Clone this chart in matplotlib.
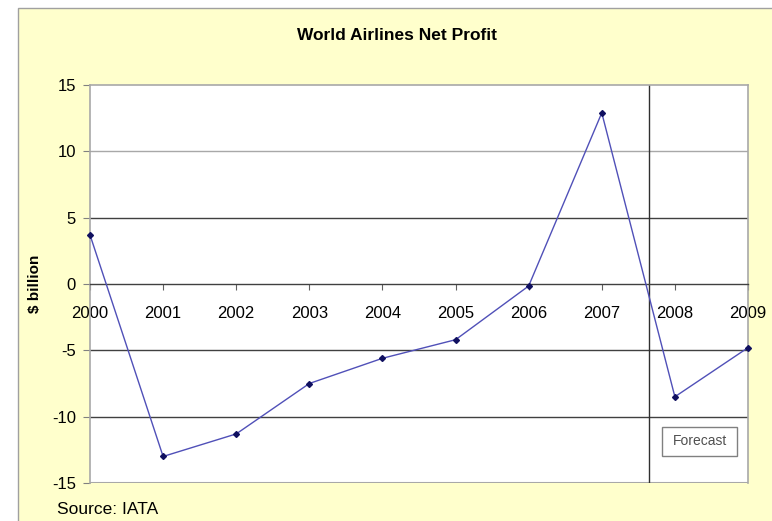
import matplotlib.pyplot as plt
from matplotlib.patches import Rectangle

# data
years = ['2000', '2001', '2002', '2003', '2004', '2005', '2006', '2007', '2008', '2009']
profit = [3.7, -13.0, -11.3, -7.5, -5.6, -4.2, -0.15, 12.9, -8.5, -4.8]
forecast_split = 7.65
y_ticks = [-15, -10, -5, 0, 5, 10, 15]

plt.rcParams['font.family'] = ['Liberation Sans', 'DejaVu Sans']

fig = plt.figure(figsize=(7.72, 5.21), dpi=100)
fig.patch.set_facecolor('white')

# yellow chart area
fig.patches.append(Rectangle((18 / 772, -0.05), 1.0, 1 - 8 / 521 + 0.05,
                             transform=fig.transFigure, facecolor='#FFFFCC',
                             edgecolor='#A0A0A0', linewidth=1.0, zorder=-10))

ax = fig.add_axes([90 / 772, 38 / 521, 658 / 772, 398 / 521])
ax.set_zorder(1)
ax.set_facecolor('white')

x = list(range(len(years)))
ax.set_xlim(0, len(years) - 1)
ax.set_ylim(-15, 15)

# gridlines
for v in [10]:
    ax.axhline(v, color='#A8A8A8', linewidth=1.0, zorder=1)
for v in [5, -5, -10]:
    ax.axhline(v, color='#404040', linewidth=1.0, zorder=1)
ax.axhline(-15, color='#A8A8A8', linewidth=1.5, zorder=1)

# forecast divider
ax.axvline(forecast_split, color='#303030', linewidth=1.0, zorder=2)

ax.plot(x, profit, color='#5050B8', linewidth=1.0, marker='D', markersize=3,
        markerfacecolor='#101060', markeredgecolor='#101060', zorder=3, clip_on=False)

for side in ['top', 'right', 'left']:
    ax.spines[side].set_color('#A8A8A8')
    ax.spines[side].set_linewidth(1.2)
ax.spines['bottom'].set_position(('data', 0))
ax.spines['bottom'].set_color('#404040')
ax.spines['bottom'].set_linewidth(1.0)

ax.set_xticks(x)
ax.set_xticklabels(years, fontsize=12)
ax.set_yticks(y_ticks)
ax.set_yticklabels([str(v) for v in y_ticks], fontsize=12)
ax.tick_params(axis='x', length=4, pad=12, color='#606060')
ax.tick_params(axis='y', length=5, pad=5, color='#808080')
for lbl in ax.get_xticklabels():
    lbl.set_zorder(5)

ax.set_ylabel('$ billion', fontsize=11, fontweight='bold')
ax.yaxis.set_label_coords(-0.073, 0.5)

# forecast box
ax.add_patch(Rectangle((7.824, -12.96), 1.026, 2.18, facecolor='white',
                       edgecolor='#808080', linewidth=1.0, zorder=6))
ax.text(8.337, -11.87, 'Forecast', fontsize=10, color='#505050', ha='center', va='center', zorder=7)

fig.text(397 / 772, 1 - 35 / 521, 'World Airlines Net Profit', fontsize=12.5, fontweight='bold',
         ha='center', va='center')
fig.text(57 / 772, 1 - 510 / 521, 'Source: IATA', fontsize=12.5, ha='left', va='center')

fig.savefig('out.png', dpi=100)
